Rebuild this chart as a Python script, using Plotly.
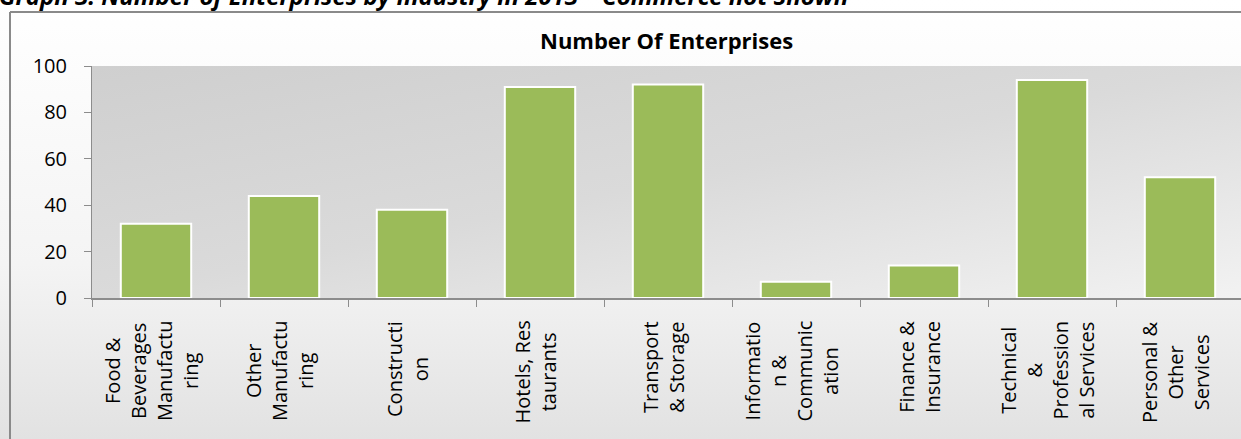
import base64
import plotly.graph_objects as go

# Enterprises per industry (2013)
categories = [
    "Food & Beverages Manufacturing",
    "Other Manufacturing",
    "Construction",
    "Hotels, Restaurants",
    "Transport & Storage",
    "Information & Communication",
    "Finance & Insurance",
    "Technical & Professional Services",
    "Personal & Other Services",
]
tick_labels = [
    "Food &<br>Beverages<br>Manufactu<br>ring",
    "Other<br>Manufactu<br>ring",
    "Constructi<br>on",
    "Hotels, Res<br>taurants",
    "Transport<br>& Storage",
    "Informatio<br>n &<br>Communic<br>ation",
    "Finance &<br>Insurance",
    "Technical<br>&<br>Profession<br>al Services",
    "Personal &<br>Other<br>Services",
]
enterprises = [32, 44, 38, 91, 92, 7, 14, 94, 52]
y_ticks = [0, 20, 40, 60, 80, 100]

W, H = 1241, 439
L, T, B = 92, 66, 141
plot_w = W - L
cat_px = 128


def svg_uri(svg):
    return "data:image/svg+xml;base64," + base64.b64encode(svg.encode()).decode()


plot_bg = svg_uri(
    '<svg xmlns="http://www.w3.org/2000/svg" width="400" height="100" preserveAspectRatio="none">'
    '<defs><linearGradient id="g" x1="0" y1="0" x2="1" y2="1">'
    '<stop offset="0" stop-color="#cfcfcf"/><stop offset="0.5" stop-color="#dadada"/>'
    '<stop offset="1" stop-color="#f2f2f2"/></linearGradient></defs>'
    '<rect width="400" height="100" fill="url(#g)"/></svg>'
)
page_bg = svg_uri(
    '<svg xmlns="http://www.w3.org/2000/svg" width="100" height="100" preserveAspectRatio="none">'
    '<defs><linearGradient id="g" x1="0" y1="0" x2="0" y2="1">'
    '<stop offset="0" stop-color="#ffffff"/><stop offset="0.6" stop-color="#f4f4f4"/>'
    '<stop offset="1" stop-color="#e2e2e2"/></linearGradient></defs>'
    '<rect width="100" height="100" fill="url(#g)"/></svg>'
)

FONT = "Open Sans"

fig = go.Figure(
    go.Bar(
        x=list(range(len(categories))),
        y=enterprises,
        hovertext=categories,
        marker=dict(color="#9bbb59", line=dict(color="#ffffff", width=2)),
        width=0.55,
    )
)

x_hi = -0.5 + plot_w / cat_px

def px_x(p):
    return (p - L) / plot_w

def px_y(p):
    return (H - B - p) / (H - T - B)

annotations = [
    dict(
        x=i, y=0, xref="x", yref="y",
        text=lab, textangle=-90, align="center",
        xanchor="center", yanchor="top", yshift=-21, xshift=-5,
        showarrow=False,
        font=dict(family=FONT, size=20, color="#000000"),
    )
    for i, lab in enumerate(tick_labels)
]
annotations.append(dict(
    x=px_x(666), y=px_y(40), xref="paper", yref="paper",
    text="<b>Number Of Enterprises</b>", showarrow=False,
    xanchor="center", yanchor="middle",
    font=dict(family=FONT, size=22, color="#000000"),
))
annotations.append(dict(
    x=px_x(-3), y=px_y(14), xref="paper", yref="paper",
    text="<b><i>Graph 3: Number of Enterprises by Industry in 2013 \u2013 Commerce not Shown</i></b>",
    showarrow=False, xanchor="left", yanchor="bottom",
    font=dict(family=FONT, size=24, color="#000000"),
))

frame = dict(color="#8a8a8a", width=2)
shapes = [
    dict(type="line", xref="paper", yref="paper", x0=px_x(10), x1=px_x(W + 5),
         y0=px_y(12), y1=px_y(12), line=frame),
    dict(type="line", xref="paper", yref="paper", x0=px_x(10), x1=px_x(10),
         y0=px_y(12), y1=px_y(H + 5), line=frame),
]

fig.update_layout(
    width=W, height=H,
    margin=dict(l=L, r=0, t=T, b=B, pad=0),
    paper_bgcolor="#ffffff",
    plot_bgcolor="rgba(0,0,0,0)",
    showlegend=False,
    bargap=0.45,
    font=dict(family=FONT, size=19, color="#000000"),
    images=[
        dict(source=page_bg, xref="paper", yref="paper", x=px_x(0), y=px_y(0),
             sizex=W / plot_w, sizey=H / (H - T - B), sizing="stretch",
             layer="below", xanchor="left", yanchor="top"),
        dict(source=plot_bg, xref="paper", yref="paper", x=0, y=1,
             sizex=1, sizey=1, sizing="stretch", layer="below",
             xanchor="left", yanchor="top"),
    ],
    annotations=annotations,
    shapes=shapes,
    xaxis=dict(
        range=[-0.5, x_hi], tickmode="array",
        tickvals=[i - 0.5 for i in range(len(categories) + 1)],
        showticklabels=False, ticks="outside", ticklen=7, tickwidth=1,
        tickcolor="#8c8c8c", showline=True, linecolor="#8c8c8c", linewidth=2,
        showgrid=False, zeroline=False,
    ),
    yaxis=dict(
        range=[0, 100], tickmode="array", tickvals=y_ticks,
        ticks="outside", ticklen=7, tickwidth=1, tickcolor="#8c8c8c",
        showline=True, linecolor="#8c8c8c", linewidth=1,
        showgrid=False, zeroline=False, ticklabelstandoff=13,
        tickfont=dict(family=FONT, size=20, color="#000000"),
    ),
)

fig.write_html("out.html")
